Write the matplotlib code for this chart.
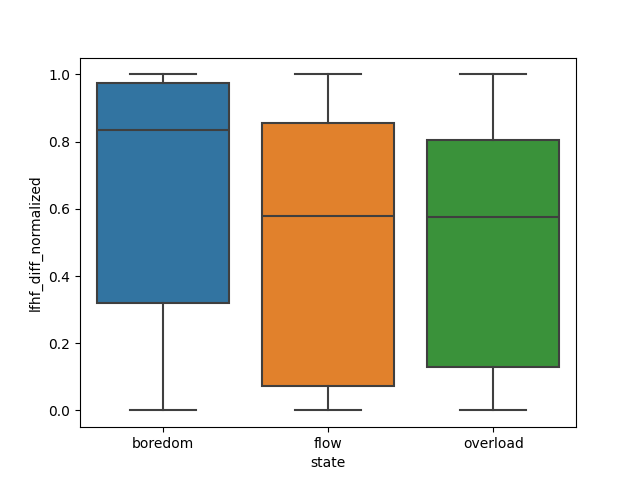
import matplotlib
matplotlib.use("Agg")
import matplotlib.pyplot as plt

# box statistics
states = ["boredom", "flow", "overload"]
whisker_low = [0.0, 0.0, 0.0]
q1 = [0.32, 0.072, 0.13]
median = [0.835, 0.58, 0.575]
q3 = [0.975, 0.855, 0.805]
whisker_high = [1.0, 1.0, 1.0]
colors = ["#3274a1", "#e1812c", "#3a923a"]

stats = []
for i in range(len(states)):
    stats.append({
        "whislo": whisker_low[i], "q1": q1[i], "med": median[i],
        "q3": q3[i], "whishi": whisker_high[i], "fliers": [],
    })

fig, ax = plt.subplots(figsize=(6.4, 4.8), dpi=100)
line_col = "#3f3f3f"
bp = ax.bxp(
    stats, positions=range(len(states)), widths=0.8, patch_artist=True,
    showfliers=False,
    boxprops=dict(edgecolor=line_col, linewidth=1.5),
    medianprops=dict(color=line_col, linewidth=1.5),
    whiskerprops=dict(color=line_col, linewidth=1.5),
    capprops=dict(color=line_col, linewidth=1.5),
    capwidths=0.4,
)
for patch, c in zip(bp["boxes"], colors):
    patch.set_facecolor(c)

ax.set_xticks(range(len(states)))
ax.set_xticklabels(states)
ax.set_xlim(-0.5, len(states) - 0.5)
ax.set_ylim(-0.05, 1.05)
ax.set_xlabel("state")
ax.set_ylabel("lfhf_diff_normalized")

plt.savefig("out.png")
